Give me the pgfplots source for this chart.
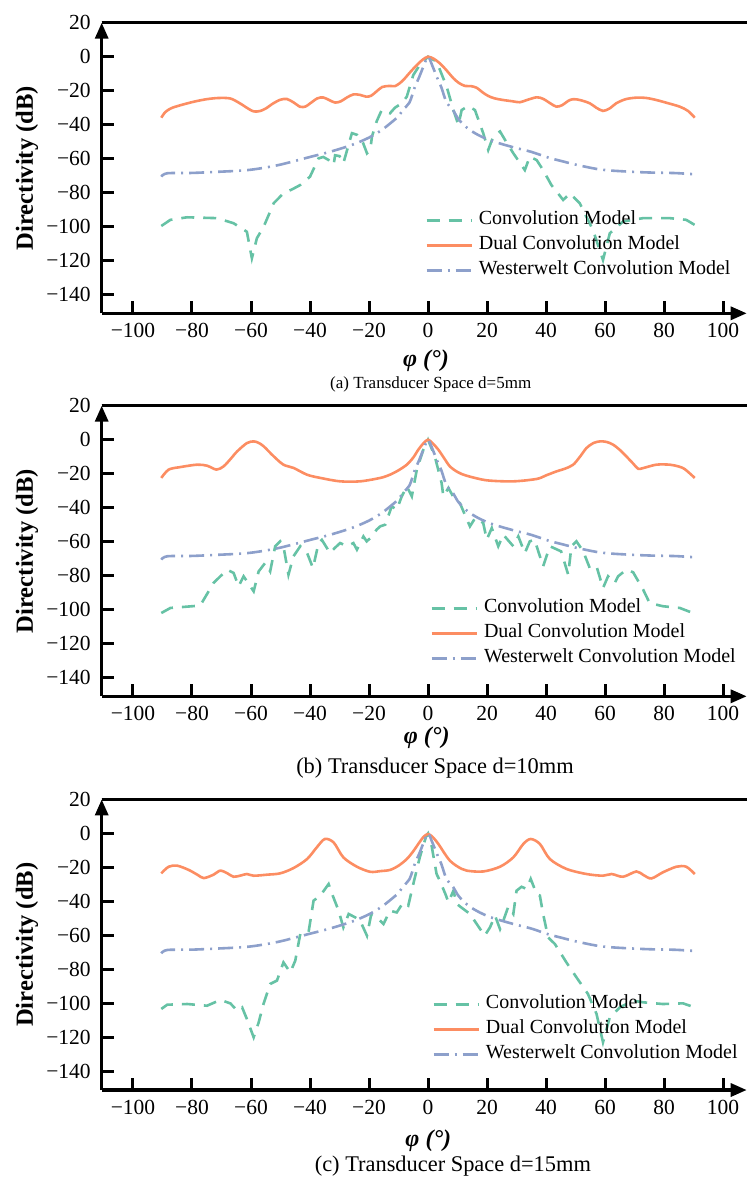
\documentclass[border=0pt]{standalone}
\usepackage{fontspec}
\setmainfont{Liberation Serif}
\usepackage{pgfplots}
\pgfplotsset{compat=1.18}
\usetikzlibrary{arrows.meta}

\definecolor{convgreen}{RGB}{102,194,165}
\definecolor{dualorange}{RGB}{252,141,98}
\definecolor{westblue}{RGB}{141,160,203}

\pgfplotsset{
  dirplot/.style={
    scale only axis, width=322.5pt, height=145.3pt,
    anchor=south west,
    xmin=-110.6, xmax=108, ymin=-151, ymax=20,
    axis lines=left,
    axis line style={line width=1.6pt, -{Triangle[length=8pt,width=6.5pt]}},
    tick align=inside,
    major tick length=6pt,
    every tick/.style={line width=1.5pt, black},
    xtick={-100,-80,...,100},
    xticklabels={−100,−80,−60,−40,−20,0,20,40,60,80,100},
    ytick={-140,-120,...,20},
    yticklabels={−140,−120,−100,−80,−60,−40,−20,0,20},
    ticklabel style={font=\fontsize{10.75}{12}\selectfont},
    xticklabel style={yshift=-1.5pt},
    yticklabel style={xshift=-2pt},
    ylabel={Directivity (dB)},
    ylabel style={at={(axis description cs:-0.1158,0.5)}, anchor=center,
      font=\bfseries\fontsize{12.3}{14}\selectfont},
    legend cell align=left,
    legend image code/.code={\draw[#1] (0pt,0pt) -- (22.5pt,0pt);},
    legend style={draw=none, fill=none, anchor=north west, inner sep=0pt,
      row sep=0pt, font=\fontsize{10}{12}\selectfont,
      nodes={inner sep=0pt, text height=8.3pt, text depth=4.2pt},
      /tikz/every odd column/.append style={column sep=3pt}},
    clip=false,
  },
  conv/.style={convgreen, line width=1.3pt, dash pattern=on 6.5pt off 4.5pt},
  dual/.style={dualorange, line width=1.3pt, smooth},
  west/.style={westblue, line width=1.3pt, smooth,
    dash pattern=on 7.5pt off 3pt on 1pt off 3pt},
}

\begin{document}
\begin{tikzpicture}

% ---------- (a) d = 5 mm ----------
\begin{axis}[dirplot, at={(0pt,-156.65pt)},
  legend style={at={(axis description cs:0.501,0.364)}}]
\addplot[conv] coordinates {
(-90.4,-99.6)(-87.3,-96)(-81.7,-94.5)(-71.5,-95)(-65.9,-98)(-61.4,-103)
(-59.7,-118.6)(-58,-106.8)(-55.7,-100)(-52.3,-86.2)(-49,-80.4)(-46,-78)
(-43.3,-75.5)(-40,-70.6)(-37.1,-59.8)(-35.5,-59)(-33.7,-60.8)(-32,-63.7)
(-31.5,-58)(-30,-58.5)(-28.7,-62.7)(-25.8,-45)(-24,-46)(-22.4,-49)
(-20.7,-56.8)(-19.6,-54.9)(-19,-47)(-17.4,-38)(-15.7,-31.4)(-12.9,-33.3)
(-11.2,-30)(-8.9,-27.4)(-7.2,-23.5)(-5,-10.8)(-2.8,-4.9)(0,0)(2.9,-2.9)
(6.3,-17.6)(8.6,-31.4)(10.3,-40.2)(11.4,-31.4)(13.6,-29)(15.9,-31.4)
(18.7,-45)(20.4,-54.9)(22.1,-47)(24.4,-44)(26.1,-49)(28.9,-56.8)
(32.8,-66.7)(34.5,-58.8)(36.8,-60.8)(39,-66.7)(41.8,-75.5)(45.8,-84.3)
(48.1,-80.4)(51.4,-86.2)(55.9,-102)(59.3,-119.6)(61.6,-103.9)(66.1,-97)
(72.9,-95)(81.9,-95)(87.5,-96)(90.4,-99)};
\addlegendentry{Convolution Model}
\addplot[dual] coordinates {
(-90.4,-35.9)(-89,-32.5)(-87,-30.3)(-84,-28.6)(-79.4,-26.5)(-75,-25)
(-71,-24.3)(-67,-24.6)(-63.8,-27.4)(-61,-30.5)(-59.1,-32.2)(-57,-32)
(-55,-30.5)(-52.5,-27.5)(-50,-25.3)(-47.8,-24.9)(-45.5,-27)(-43.3,-29.5)
(-41.5,-29.3)(-39.9,-27.4)(-37.5,-24.5)(-35.5,-24)(-33.5,-25.5)(-31.5,-27)
(-29.5,-26.2)(-27.5,-24)(-25.3,-22.2)(-23,-22.5)(-21,-23.5)(-19.3,-23)
(-17.5,-20.5)(-15.5,-17.8)(-13,-17.2)(-11.2,-17.3)(-9.5,-15.5)(-8,-13)
(-6,-9)(-4,-5.3)(-2,-2)(0,0)(2,-1.3)(4,-3.9)(6,-7.5)(8.6,-12.7)
(10.5,-15.5)(12.5,-17.2)(14.5,-17.3)(16.5,-18.3)(18.5,-21)(20.4,-23.1)
(22.5,-24.5)(25.5,-25.5)(28.5,-26.2)(31.1,-26.8)(33.5,-25.5)(36.8,-23.9)
(39,-24.8)(41.5,-27.5)(43.5,-29.4)(45.5,-28.5)(47.5,-26)(49.2,-25)
(51.5,-25.5)(54.8,-27.4)(57,-30)(59.3,-31.9)(61.5,-30.5)(63.8,-27.4)
(67,-25)(70.6,-24.1)(74,-24.3)(77.4,-25.5)(81,-27.2)(85.3,-29.4)
(88.1,-31.9)(90.4,-35.9)};
\addlegendentry{Dual Convolution Model}
\addplot[west] coordinates {
(-90.4,-70.6)(-88.4,-68.6)(-80,-68.4)(-72,-67.8)(-65,-67.2)(-60,-66.5)
(-55,-65.2)(-50,-63.5)(-45,-61.3)(-40,-59)(-35,-56.8)(-30,-54.3)
(-25,-51.4)(-20,-47.6)(-16,-43.5)(-13,-39.5)(-10,-35)(-8.4,-31)
(-6.3,-27)(-4.5,-18)(-3,-12)(-1.5,-5.5)(0,0)(1.5,-5.5)(3,-12)(4.5,-18)
(6.3,-27)(8.5,-31.5)(10,-36)(12,-40)(14.5,-43.5)(17.5,-46.5)(21,-49.2)
(25,-51.4)(30,-53.8)(35,-56)(41,-59.5)(45,-61.3)(50,-63.5)(57,-66)
(62,-67)(70,-67.8)(76,-68.2)(84,-68.5)(90.4,-69.2)};
\addlegendentry{Westerwelt Convolution Model}
\end{axis}

% ---------- (b) d = 10 mm ----------
\begin{axis}[dirplot, at={(0pt,-348.15pt)},
  legend style={at={(axis description cs:0.509,0.347)}}]
\addplot[conv] coordinates {
(-90.4,-102)(-87.3,-99)(-82.8,-98.4)(-77.2,-97.6)(-72.7,-84.3)(-68.1,-76.5)
(-65.9,-78.4)(-64.2,-86.3)(-62.5,-80.4)(-59.1,-89.2)(-57.4,-77.5)
(-55.2,-72.5)(-53.5,-77.5)(-51.8,-62.7)(-50.1,-59.8)(-49,-62.7)
(-47.3,-79.4)(-45.6,-68.6)(-43.3,-62.7)(-41,-66.6)(-39,-75.5)(-37.1,-60.8)
(-36,-58.9)(-33.2,-66.7)(-31.6,-63.7)(-29.8,-60.8)(-27.5,-62.7)
(-25.3,-60.8)(-24.1,-64.7)(-21.9,-56.9)(-20.8,-59.8)(-19.6,-58)
(-17.4,-52.9)(-16.2,-51)(-14.5,-50)(-12.3,-39.2)(-10.6,-41.2)(-8.9,-33.3)
(-7.2,-27.5)(-5.5,-33.3)(-3.8,-17.6)(-1.6,-5.9)(0,0)(2.3,-9.8)(4.6,-25.5)
(5.2,-33.3)(6.9,-28.4)(9.1,-35.3)(10.8,-37.3)(12,-42.2)(14.2,-51)(16,-46)
(18.7,-49)(19.9,-58.8)(21.6,-52)(23.8,-62.7)(25.5,-55.9)(28.9,-62.7)
(30.6,-56.9)(32.8,-66.7)(34.5,-59.8)(36.1,-58.8)(39,-74.5)(41.3,-62.7)
(45.1,-65.7)(47.5,-79.4)(48.6,-62.7)(50.3,-59.8)(52.6,-65.7)(54.8,-75.5)
(57.1,-74.5)(59.3,-87.3)(61,-80.4)(63.3,-84.3)(64.4,-80.4)(67.2,-76.5)
(69.5,-78)(72.9,-88.2)(75.1,-96.1)(79.6,-98)(85.3,-99)(90.4,-102.4)};
\addlegendentry{Convolution Model}
\addplot[dual] coordinates {
(-90.4,-22.5)(-87.9,-17.6)(-83.9,-16.1)(-78.3,-14.7)(-74.9,-15.3)
(-71.7,-17.6)(-69.3,-15.7)(-67,-11.5)(-64.7,-6.9)(-61.4,-2)(-59.1,-1)
(-57.5,-1.8)(-55.7,-3.9)(-52.3,-9.8)(-49,-14.7)(-45.6,-16.6)(-41,-20.6)
(-36.5,-22.5)(-29.8,-24.5)(-23,-24.5)(-16.2,-22.5)(-12.9,-20.6)(-10,-18)
(-7.2,-14.7)(-5,-10.5)(-3.3,-5.9)(-1.5,-2)(0,0)(1.5,-2)(3.5,-5.9)
(5.5,-11)(7.4,-15.7)(10,-19)(13.1,-21.2)(19.9,-23.9)(28.9,-24.5)
(36.8,-23.1)(40,-21)(43.6,-18.6)(46.5,-17)(49.2,-14.7)(51.5,-10)
(53.7,-4.9)(56,-2)(58.2,-1)(60.5,-1.3)(62.7,-2.9)(65,-6)(67.2,-9.8)
(69.5,-14)(71.2,-17.1)(72.9,-16.7)(77.4,-14.7)(81.9,-14.7)(85,-15.8)
(87,-17.3)(90.4,-22.5)};
\addlegendentry{Dual Convolution Model}
\addplot[west] coordinates {
(-90.4,-70.6)(-88.4,-68.6)(-80,-68.4)(-72,-67.8)(-65,-67.2)(-60,-66.5)
(-55,-65.2)(-50,-63.5)(-45,-61.3)(-40,-59)(-35,-56.8)(-30,-54.3)
(-25,-51.4)(-20,-47.6)(-16,-43.5)(-13,-39.5)(-10,-35)(-8.4,-31)
(-6.3,-27)(-4.5,-18)(-3,-12)(-1.5,-5.5)(0,0)(1.5,-5.5)(3,-12)(4.5,-18)
(6.3,-27)(8.5,-31.5)(10,-36)(12,-40)(14.5,-43.5)(17.5,-46.5)(21,-49.2)
(25,-51.4)(30,-53.8)(35,-56)(41,-59.5)(45,-61.3)(50,-63.5)(57,-66)
(62,-67)(70,-67.8)(76,-68.2)(84,-68.5)(90.4,-69.2)};
\addlegendentry{Westerwelt Convolution Model}
\end{axis}

% ---------- (c) d = 15 mm ----------
\begin{axis}[dirplot, at={(0pt,-545pt)},
  legend style={at={(axis description cs:0.512,0.339)}}]
\addplot[conv] coordinates {
(-90.4,-103.3)(-88.4,-100.8)(-81.6,-100.4)(-74.9,-101.4)(-70.4,-98)
(-67,-100)(-64.7,-104.3)(-63,-102.4)(-61.4,-109.2)(-59.1,-120)
(-57.4,-111.2)(-55.7,-100)(-53.5,-88.6)(-51.2,-86.6)(-49,-75.9)
(-46.7,-81.8)(-45,-74.9)(-43.3,-59.2)(-40.5,-58.2)(-38.8,-39.6)
(-36.5,-36.6)(-33.7,-29.8)(-32.3,-36.6)(-30.3,-45.5)(-28.7,-55.3)
(-26.9,-47.4)(-24.7,-49.4)(-23,-51.4)(-20.7,-60.2)(-19.3,-48)
(-17.4,-49.4)(-15.1,-53.3)(-12.9,-45.5)(-10.6,-46.5)(-8.4,-40.6)
(-6.7,-42.5)(-5,-29.8)(-2.8,-14.1)(-0.6,-1.4)(0,0)(1.1,-6.2)(2.9,-23.9)
(4,-27.8)(6.1,-36.6)(6.9,-40.6)(8.6,-33.7)(9.7,-41.5)(12,-44.5)
(14.2,-47.4)(16.5,-53.3)(19.2,-60.2)(21,-55.3)(22.7,-48.4)(24.4,-56.3)
(25.5,-51.4)(27.2,-43.1)(28.9,-47.4)(30,-33.7)(31.7,-31.4)(33.4,-32.7)
(34.8,-26.8)(36.8,-35.7)(37.9,-36.6)(39,-47.4)(40.7,-61.2)(43,-65.1)
(46.9,-75.9)(50.3,-84.7)(54.2,-94.5)(57.1,-106.2)(59.3,-122.9)
(61.6,-108.2)(65,-102.4)(69.5,-98.4)(72.9,-99.4)(79.6,-100.4)
(86.4,-100)(90.4,-102.4)};
\addlegendentry{Convolution Model}
\addplot[dual] coordinates {
(-90.4,-23.5)(-87.9,-19.6)(-85,-19)(-81.1,-21.5)(-78,-24.5)(-76,-26.3)
(-72.7,-24.3)(-70.4,-21.9)(-68,-23.5)(-65.9,-25.5)(-63.5,-24.8)
(-61.4,-23.9)(-59.1,-24.9)(-54.6,-24.3)(-50.1,-23.5)(-45.6,-20.4)
(-41,-15.1)(-37.7,-8.2)(-35,-3.3)(-32,-5.3)(-28.7,-14.1)(-24.1,-19.6)
(-19.6,-22.6)(-16.2,-22.2)(-12.9,-21.5)(-10,-19)(-7.2,-15.1)(-5,-10.5)
(-3.3,-6.2)(-1.5,-2)(0,-0.4)(1.5,-2)(3.5,-6.2)(5.5,-11.5)(7.4,-16)
(10,-19.5)(13.1,-21.9)(18.7,-22.4)(24.4,-19.6)(28.9,-14.1)(32.3,-6.2)
(34.8,-3.3)(37.9,-6.2)(41.3,-15.1)(46.9,-20.9)(53.7,-23.9)(59.3,-24.9)
(62.2,-23.9)(66.1,-25.5)(70.6,-22.4)(73,-24.5)(75.7,-26.5)(79.6,-22.9)
(84.2,-19.6)(87.5,-19.6)(90.4,-23.9)};
\addlegendentry{Dual Convolution Model}
\addplot[west] coordinates {
(-90.4,-70.6)(-88.4,-68.6)(-80,-68.4)(-72,-67.8)(-65,-67.2)(-60,-66.5)
(-55,-65.2)(-50,-63.5)(-45,-61.3)(-40,-59)(-35,-56.8)(-30,-54.3)
(-25,-51.4)(-20,-47.6)(-16,-43.5)(-13,-39.5)(-10,-35)(-8.4,-31)
(-6.3,-27)(-4.5,-18)(-3,-12)(-1.5,-5.5)(0,0)(1.5,-5.5)(3,-12)(4.5,-18)
(6.3,-27)(8.5,-31.5)(10,-36)(12,-40)(14.5,-43.5)(17.5,-46.5)(21,-49.2)
(25,-51.4)(30,-53.8)(35,-56)(41,-59.5)(45,-61.3)(50,-63.5)(57,-66)
(62,-67)(70,-67.8)(76,-68.2)(84,-68.5)(90.4,-69.2)};
\addlegendentry{Westerwelt Convolution Model}
\end{axis}

% top frame lines
\draw[line width=1.6pt] (0pt,-11.35pt) -- (323pt,-11.35pt);
\draw[line width=1.6pt] (0pt,-202.85pt) -- (323pt,-202.85pt);
\draw[line width=1.6pt] (0pt,-399.7pt) -- (323pt,-399.7pt);

% x labels and captions
\node[anchor=base, font=\bfseries\itshape\fontsize{12}{14}\selectfont] at (162.15pt,-183.3pt) {φ (°)};
\node[anchor=base, font=\fontsize{8.5}{10}\selectfont] at (164.5pt,-194.25pt) {(a) Transducer Space d=5mm};
\node[anchor=base, font=\bfseries\itshape\fontsize{12}{14}\selectfont] at (162.5pt,-371.7pt) {φ (°)};
\node[anchor=base, font=\fontsize{11.2}{13}\selectfont] at (166.65pt,-386.5pt) {(b) Transducer Space d=10mm};
\node[anchor=base, font=\bfseries\itshape\fontsize{12}{14}\selectfont] at (163.3pt,-573.3pt) {φ (°)};
\node[anchor=base, font=\fontsize{11.2}{13}\selectfont] at (175.6pt,-585.8pt) {(c) Transducer Space d=15mm};

\pgfresetboundingbox
\path[use as bounding box] (-50.85pt,-589.5pt) rectangle (322.65pt,0pt);
\end{tikzpicture}
\end{document}
